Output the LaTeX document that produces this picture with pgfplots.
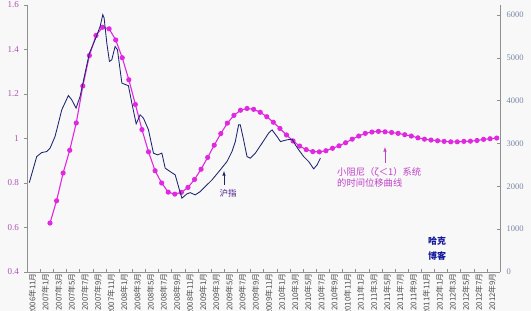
\documentclass[border=0pt]{standalone}
\usepackage{fontspec}
\setmainfont{Liberation Serif}
\newfontfamily\cjk{Noto Sans CJK SC}
\usepackage{pgfplots}
\pgfplotsset{compat=1.18}
\definecolor{bgc}{HTML}{F8F8F8}
\definecolor{mag}{HTML}{E028E0}
\definecolor{navyl}{HTML}{1C2470}
\definecolor{lefttick}{HTML}{B050B8}
\definecolor{righttick}{HTML}{7888A8}
\definecolor{annm}{HTML}{C040C8}
\definecolor{axgray}{HTML}{909090}
\pgfplotsset{
  base/.style={scale only axis, width=473pt, height=267pt, xmin=-0.5, xmax=71.5,
    axis line style={axgray}, /pgf/number format/assume math mode=true,
    /pgf/number format/1000 sep={}}
}
\begin{document}
\begin{tikzpicture}
\fill[bgc] (-27pt,-39pt) rectangle (504pt,272pt);
% x axis
\begin{axis}[base, ymin=0, ymax=1, axis x line*=bottom, hide y axis,
  tick align=inside, xtick={0,2,...,70}, major tick length=0pt,
  minor xtick={-0.5,1.5,...,71.5}, minor tick length=3pt,
  minor tick style={axgray},
  xticklabel style={rotate=90, anchor=east, font=\cjk\fontsize{7.8}{8}\selectfont, text=black!70, inner sep=1pt, yshift=-2pt},
  xticklabels={2006年11月,2007年1月,2007年3月,2007年5月,2007年7月,2007年9月,2007年11月,
    2008年1月,2008年3月,2008年5月,2008年7月,2008年9月,2008年11月,
    2009年1月,2009年3月,2009年5月,2009年7月,2009年9月,2009年11月,
    2010年1月,2010年3月,2010年5月,2010年7月,2010年9月,2010年11月,
    2011年1月,2011年3月,2011年5月,2011年7月,2011年9月,2011年11月,
    2012年1月,2012年3月,2012年5月,2012年7月,2012年9月}]
\end{axis}
% left axis with magenta series
\begin{axis}[base, ymin=0.4, ymax=1.6, axis y line*=left, hide x axis,
  tick align=outside, major tick length=2.5pt, ytick={0.4,0.6,0.8,1,1.2,1.4,1.6},
  yticklabels={0.4,0.6,0.8,1,1.2,1.4,1.6},
  y tick style={axgray},
  yticklabel style={font=\fontsize{9}{9}\selectfont, text=lefttick, xshift=-2pt}]
\addplot[mag, line width=1.1pt, mark=*, mark size=2pt, mark options={fill=mag, draw=mag}] coordinates {
(3,0.62) (4,0.72) (5,0.845) (6,0.947) (7,1.07) (8,1.236) (9,1.373) (10,1.463)
(11,1.50) (12,1.493) (13,1.443) (14,1.363) (15,1.264) (16,1.153) (17,1.04) (18,0.94)
(19,0.855) (20,0.80) (21,0.759) (22,0.75) (23,0.758) (24,0.780) (25,0.816) (26,0.862)
(27,0.915) (28,0.970) (29,1.022) (30,1.069) (31,1.104) (32,1.127) (33,1.135) (34,1.131)
(35,1.118) (36,1.098) (37,1.073) (38,1.045) (39,1.016) (40,0.989) (41,0.966) (42,0.950)
(43,0.941) (44,0.940) (45,0.945) (46,0.956) (47,0.967) (48,0.981) (49,0.997) (50,1.011)
(51,1.023) (52,1.029) (53,1.032) (54,1.030) (55,1.027) (56,1.023) (57,1.017) (58,1.011)
(59,1.003) (60,0.997) (61,0.993) (62,0.990) (63,0.987) (64,0.985) (65,0.985) (66,0.987)
(67,0.988) (68,0.991) (69,0.996) (70,0.999) (71,1.002)};
\end{axis}
% right axis with index series
\begin{axis}[base, ymin=0, ymax=6230, axis y line*=right, hide x axis,
  tick align=inside, major tick length=2.5pt, ytick={0,1000,...,6000},
  y tick style={axgray},
  yticklabel style={font=\fontsize{8.5}{9}\selectfont, text=righttick, xshift=3pt}]
\addplot[navyl, line width=0.85pt] coordinates {
(-0.15,2086) (0.98,2693) (1.74,2787) (2.50,2810) (3.01,2890) (3.77,3161) (4.79,3784)
(5.80,4118) (6.31,4018) (6.97,3824) (7.58,4095) (8.34,4642) (9.0,5109) (9.87,5420)
(10.63,5730) (11.04,6004) (11.24,5926) (11.65,5342) (12.05,4913) (12.41,4952)
(12.91,5263) (13.27,5186) (13.94,4408) (14.59,4368) (14.94,4345) (15.46,3941)
(16.12,3457) (16.73,3668) (17.23,3590) (17.99,3317) (18.75,2773) (19.36,2733)
(20.03,2773) (20.54,2422) (21.30,2343) (22.06,2266) (22.56,1993) (23.08,1722)
(23.84,1822) (24.35,1852) (25.11,1799) (25.87,1876) (26.63,1993) (27.66,2149)
(28.92,2383) (29.94,2577) (30.70,2810) (31.21,3044) (31.71,3434) (31.97,3434)
(32.47,3084) (32.99,2693) (33.49,2656) (34.26,2773) (35.28,3006) (36.28,3240)
(36.80,3317) (37.56,3161) (38.07,3044) (39.09,3084) (39.85,3100) (40.35,2967)
(40.86,2850) (41.62,2693) (42.38,2577) (43.14,2406) (43.66,2500) (44.16,2656)};
\end{axis}
% annotations
\draw[navyl, -latex, line width=0.6pt] (197pt,87pt) -- (197pt,101pt);
\node[text=navyl!80!magenta, font=\cjk\fontsize{8.5}{9}\selectfont] at (201pt,79pt) {沪指};
\draw[annm, -latex, line width=0.6pt] (358pt,109pt) -- (358pt,125pt);
\node[text=annm, anchor=west, font=\cjk\fontsize{9.3}{10}\selectfont, inner sep=0pt] at (310pt,100pt) {小阻尼（ζ＜1）系统};
\node[text=annm, anchor=west, font=\cjk\fontsize{9.3}{10}\selectfont, inner sep=0pt] at (310pt,89pt) {的时间位移曲线};
\node[text=navyl!70!blue, font=\cjk\bfseries\fontsize{9}{9}\selectfont] at (410pt,31pt) {哈克};
\node[text=navyl!70!blue, font=\cjk\bfseries\fontsize{9}{9}\selectfont] at (410pt,16pt) {博客};
\pgfresetboundingbox
\path[use as bounding box] (-27pt,-39pt) rectangle (504pt,272pt);
\end{tikzpicture}
\end{document}
